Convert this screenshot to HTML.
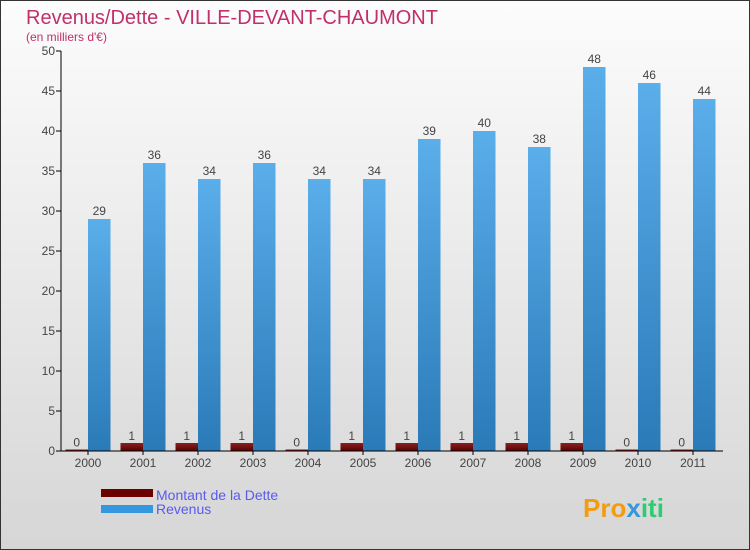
<!DOCTYPE html>
<html><head><meta charset="utf-8"><style>
body{margin:0}
#c{position:relative;width:748px;height:548px;border:1px solid #333;background:linear-gradient(#fcfcfc,#d6d6d6);font-family:"Liberation Sans",sans-serif;overflow:hidden}
</style></head><body>
<div id="c">
<svg id="s" width="748" height="548">
<defs>
<linearGradient id="gb" x1="0" y1="0" x2="0" y2="1"><stop offset="0" stop-color="#5aaeea"/><stop offset="1" stop-color="#2a7ab8"/></linearGradient>
<linearGradient id="gr" x1="0" y1="0" x2="0" y2="1"><stop offset="0" stop-color="#8a2020"/><stop offset="1" stop-color="#5a0000"/></linearGradient>
</defs>
<text x="25" y="23" font-size="20" fill="#c0306a">Revenus/Dette - VILLE-DEVANT-CHAUMONT</text>
<text x="25" y="40" font-size="12" fill="#c0306a">(en milliers d'€)</text>
<g id="g"></g>
<rect x="100" y="488" width="52" height="8" fill="#6a0000"/>
<rect x="100" y="504" width="52" height="8" fill="#3498e0"/>
<text x="155" y="499" font-size="14" fill="#5a5aee">Montant de la Dette</text>
<text x="155" y="513" font-size="14" fill="#5a5aee">Revenus</text>
<text x="582" y="516" font-size="26" font-weight="bold" fill="#f39c12">Pro<tspan fill="#3498db">x</tspan><tspan fill="#2ecc71">iti</tspan></text>
</svg>
</div>
<script>
const years=["2000","2001","2002","2003","2004","2005","2006","2007","2008","2009","2010","2011"];
const dette=[0,1,1,1,0,1,1,1,1,1,0,0];
const revenus=[29,36,34,36,34,34,39,40,38,48,46,44];
const yTicks=[0,5,10,15,20,25,30,35,40,45,50];
const NS="http://www.w3.org/2000/svg";
const g=document.getElementById('g');
const y0=450,yScale=8,x0=87,step=55,bw=22.5;
const Y=v=>y0-v*yScale, X=i=>x0+i*step;
function mk(t,a){const e=document.createElementNS(NS,t);for(const k in a)e.setAttribute(k,a[k]);g.appendChild(e);return e;}
yTicks.forEach(v=>{
 const l=mk('line',{x1:55,x2:60,y1:Y(v),y2:Y(v),stroke:'#000'});
 
 
 const t=mk('text',{x:54,y:Y(v)+4,'font-size':12,fill:'#444','text-anchor':'end'});t.textContent=v;
 
 
});
years.forEach((yr,i)=>{
 const c=X(i);
 const hd=Math.max(dette[i]*yScale,1.5);
 const r=mk('rect',{x:c-bw,y:y0-hd,width:bw,height:hd,fill:'url(#gr)'});
 
 
 const b=mk('rect',{x:c,y:Y(revenus[i]),width:bw,height:revenus[i]*yScale,fill:'url(#gb)'});
 
 
 const t1=mk('text',{x:c-bw/2,y:y0-hd-3,'font-size':12,fill:'#444','text-anchor':'middle'});t1.textContent=dette[i];
 
 
 const t2=mk('text',{x:c+bw/2,y:Y(revenus[i])-4,'font-size':12,fill:'#444','text-anchor':'middle'});t2.textContent=revenus[i];
 
 
 const tk=mk('line',{x1:c,x2:c,y1:y0,y2:y0+4,stroke:'#000'});
 
 
 const xl=mk('text',{x:c,y:466,'font-size':12,fill:'#444','text-anchor':'middle'});xl.textContent=yr;
 
 
});
const ya=mk('line',{x1:60,x2:60,y1:Y(50),y2:y0,stroke:'#000'});


const xa=mk('line',{x1:60,x2:722,y1:y0,y2:y0,stroke:'#000'});


</script>
</body></html>
